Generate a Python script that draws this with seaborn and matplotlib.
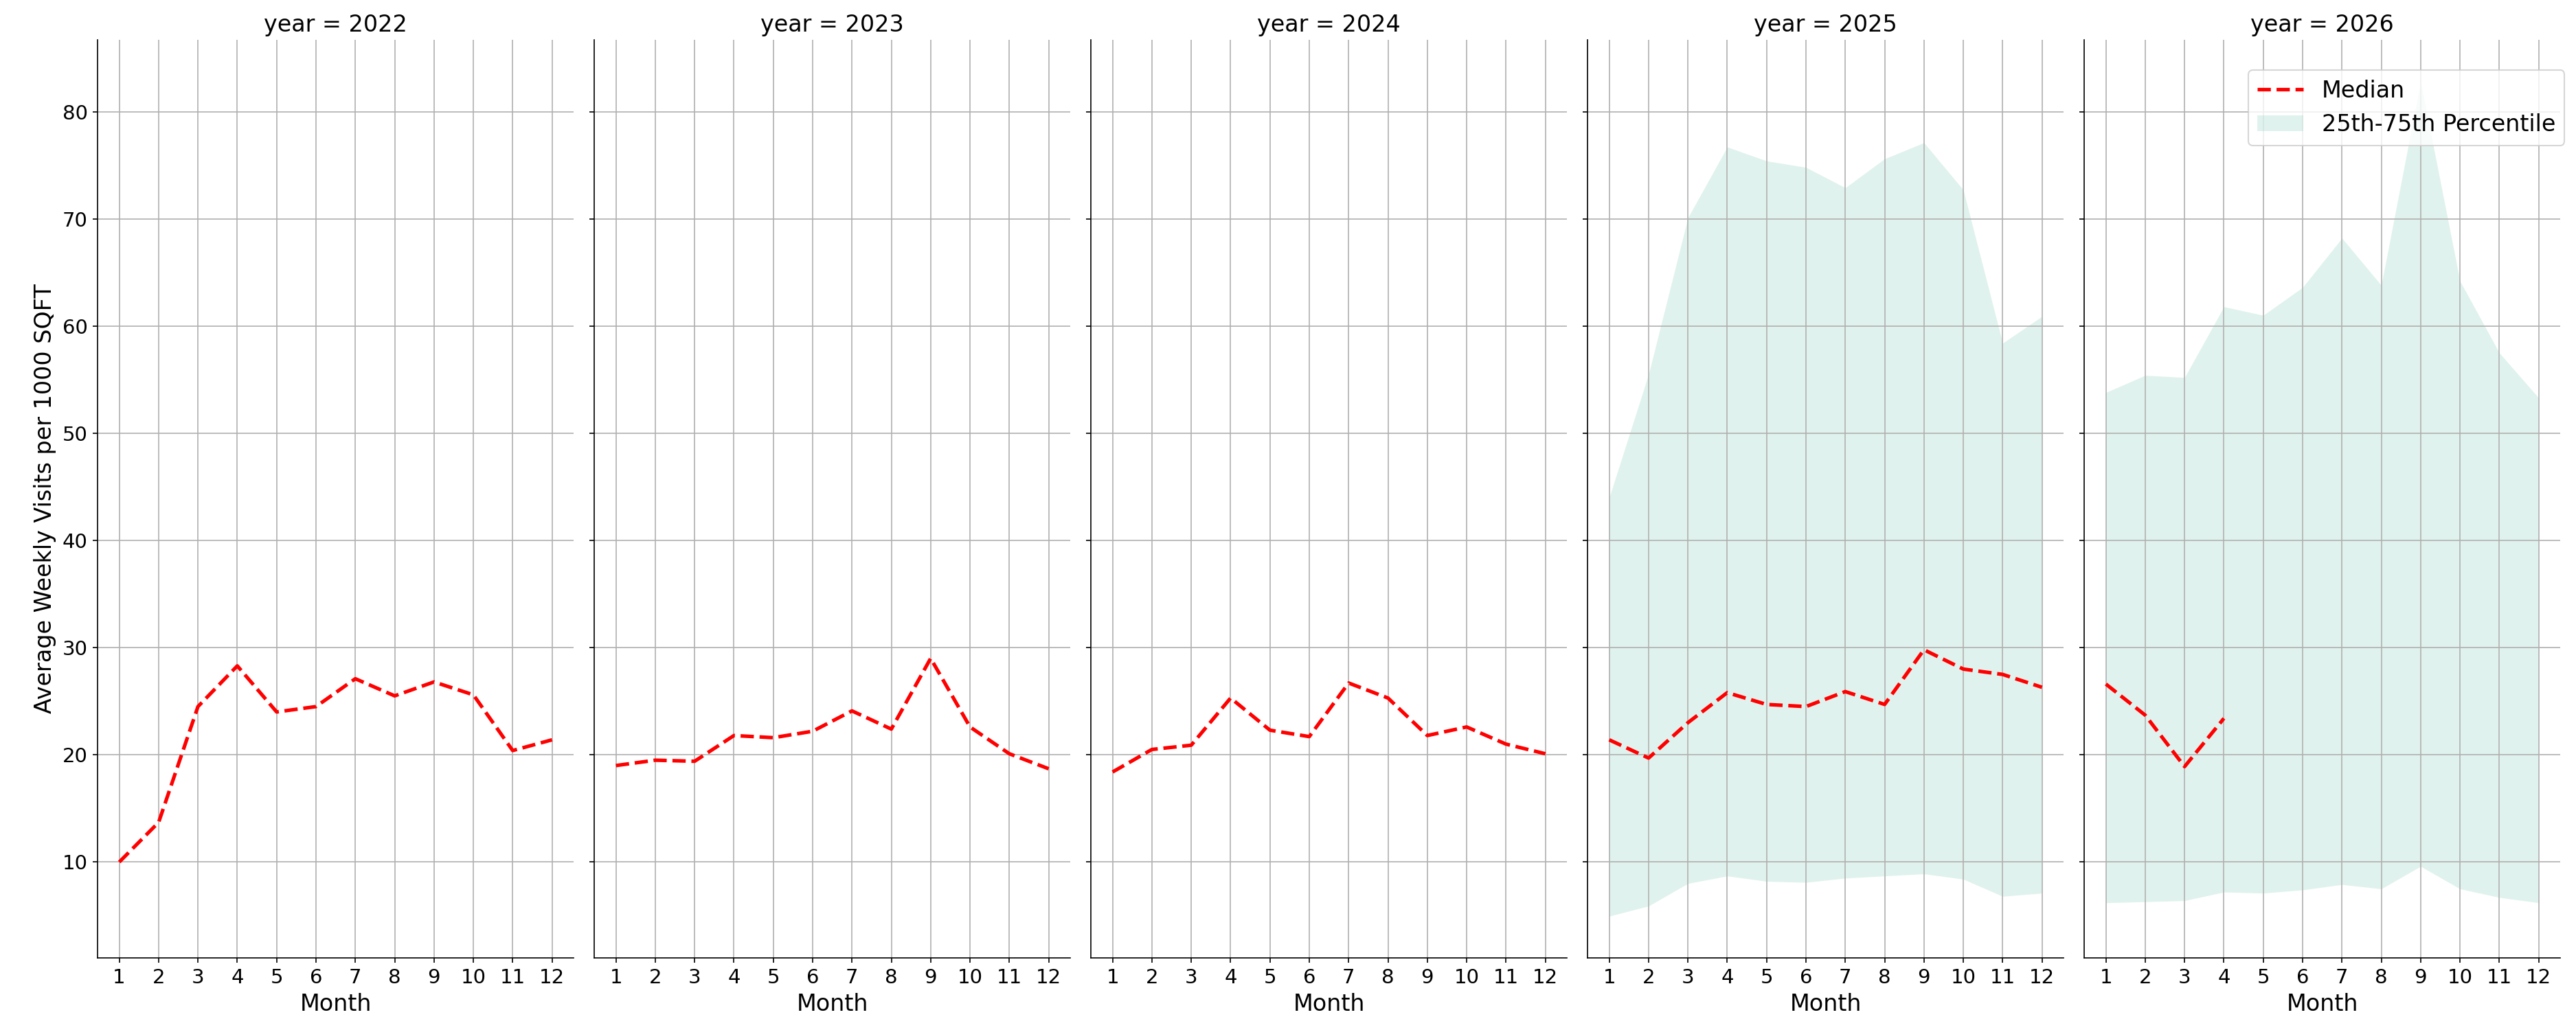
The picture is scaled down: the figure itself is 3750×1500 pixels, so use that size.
import numpy as np
import pandas as pd
import matplotlib
matplotlib.use('Agg')
import matplotlib.pyplot as plt
import seaborn as sns
from matplotlib.lines import Line2D
from matplotlib.patches import Patch

years = [2022, 2023, 2024, 2025, 2026]
months = list(range(1, 13))

median_2022 = [10.0, 13.7, 24.5, 28.3, 24.0, 24.5, 27.1, 25.5, 26.8, 25.6, 20.4, 21.4]
median_2023 = [19.0, 19.5, 19.4, 21.8, 21.6, 22.2, 24.1, 22.4, 29.0, 22.6, 20.1, 18.7]
median_2024 = [18.4, 20.5, 20.9, 25.3, 22.3, 21.7, 26.7, 25.3, 21.8, 22.6, 21.0, 20.1]
median_2025 = [21.4, 19.7, 23.0, 25.8, 24.7, 24.5, 25.9, 24.7, 29.8, 28.0, 27.5, 26.3]
median_2026 = [26.6, 23.7, 18.9, 23.4, None, None, None, None, None, None, None, None]

q25_2025 = [4.95, 5.9, 8.0, 8.7, 8.2, 8.1, 8.5, 8.7, 8.9, 8.4, 6.8, 7.1]
q75_2025 = [44.0, 55.5, 70.1, 76.7, 75.4, 74.8, 72.9, 75.6, 77.1, 72.7, 58.4, 60.9]
q25_2026 = [6.2, 6.3, 6.4, 7.2, 7.1, 7.4, 7.9, 7.5, 9.6, 7.5, 6.7, 6.2]
q75_2026 = [53.8, 55.4, 55.2, 61.8, 61.0, 63.6, 68.2, 63.8, 82.8, 64.2, 57.5, 53.3]

medians = [median_2022, median_2023, median_2024, median_2025, median_2026]
q25s = [None, None, None, q25_2025, q25_2026]
q75s = [None, None, None, q75_2025, q75_2026]

rows = []
for yr, med, lo, hi in zip(years, medians, q25s, q75s):
    for i, m in enumerate(months):
        rows.append({
            'year': yr,
            'month': m,
            'median': np.nan if med[i] is None else med[i],
            'q25': np.nan if lo is None else lo[i],
            'q75': np.nan if hi is None else hi[i],
        })
df = pd.DataFrame(rows)

plt.rcParams.update({
    'xtick.labelsize': 14,
    'ytick.labelsize': 14,
    'axes.labelsize': 16,
    'axes.titlesize': 16,
    'legend.fontsize': 16,
})

band_color = '#66c2a5'


def draw(data, **kws):
    ax = plt.gca()
    band = data.dropna(subset=['q25', 'q75'])
    if len(band):
        ax.fill_between(band['month'], band['q25'], band['q75'],
                        color=band_color, alpha=0.2, linewidth=0)
    sns.lineplot(data=data.dropna(subset=['median']), x='month', y='median',
                 color='red', linestyle='--', linewidth=2.5, ax=ax)
    ax.grid(True)


g = sns.FacetGrid(df, col='year', height=10, aspect=0.5, sharey=True)
g.map_dataframe(draw)
g.set_titles('year = {col_name}')
g.set_axis_labels('Month', 'Average Weekly Visits per 1000 SQFT')
g.set(xticks=months)

for ax in g.axes.flat:
    if ax.get_legend() is not None:
        ax.get_legend().remove()

handles = [
    Line2D([], [], color='red', linestyle='--', linewidth=2.5),
    Patch(facecolor=band_color, alpha=0.2, linewidth=0),
]
g.figure.legend(handles, ['Median', '25th-75th Percentile'],
                loc='upper right', bbox_to_anchor=(1.0, 0.943))

g.figure.subplots_adjust(left=0.0379, right=0.9939, bottom=0.07, top=0.9613, wspace=0.0433)
g.figure.savefig('out.png', dpi=150)
